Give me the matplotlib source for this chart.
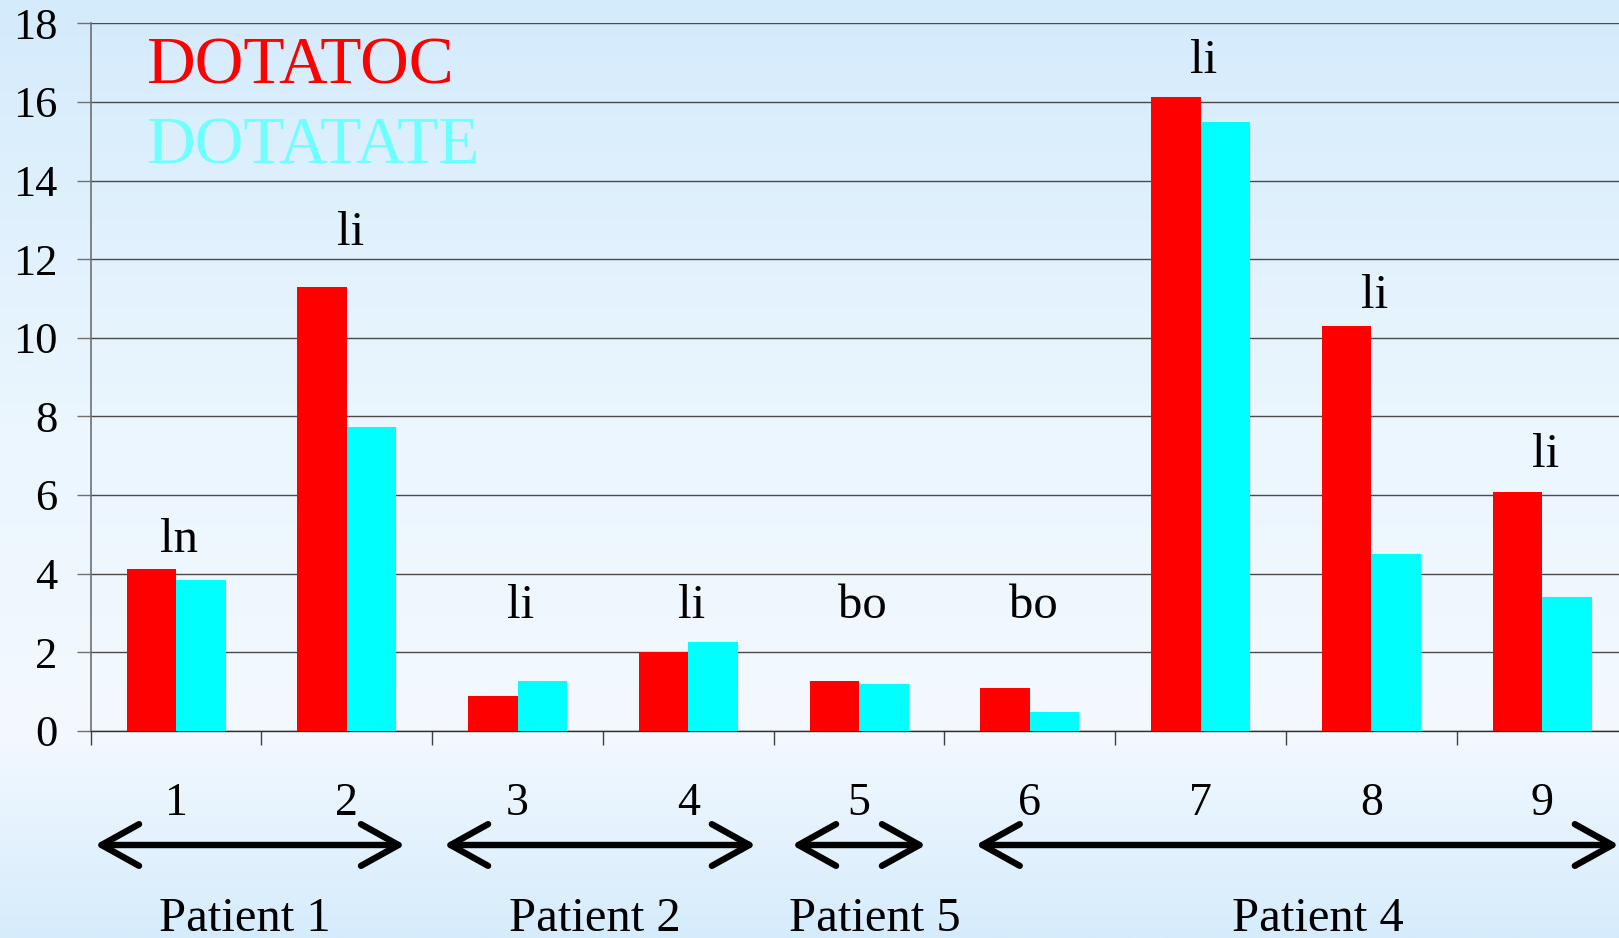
import numpy as np
import matplotlib
matplotlib.use("Agg")
import matplotlib.pyplot as plt
from matplotlib import transforms

# lesion uptake per lesion number, two tracers
lesions = ["1", "2", "3", "4", "5", "6", "7", "8", "9"]
dotatoc = [4.12, 11.30, 0.89, 2.00, 1.26, 1.08, 16.13, 10.30, 6.08]
dotatate = [3.84, 7.72, 1.26, 2.26, 1.18, 0.47, 15.50, 4.49, 3.41]
sites = ["ln", "li", "li", "li", "bo", "bo", "li", "li", "li"]
patients = ["Patient 1", "Patient 2", "Patient 5", "Patient 4"]

# where the site tags and patient brackets sit
site_baseline = [4.55, 12.37, 2.88, 2.88, 2.88, 2.88, 16.74, 10.76, 6.72]
bracket_ends = [(-0.475, 1.341), (1.569, 3.396), (3.607, 4.392), (4.683, 8.45)]
patient_x = [0.402, 2.452, 4.09, 6.685]

plt.rcParams["font.family"] = ["Liberation Serif", "DejaVu Serif"]

W, H = 1619, 938
fig = plt.figure(figsize=(W / 100, H / 100), dpi=100)

# soft vertical blue gradient behind everything
bg = fig.add_axes([0, 0, 1, 1], zorder=-10)
rows = np.linspace(0, 1, 400)
stops = [0.0, 0.45, 0.78, 1.0]
r = np.interp(rows, stops, [212, 235, 243, 214])
g = np.interp(rows, stops, [235, 246, 249, 236])
b = np.interp(rows, stops, [252, 254, 255, 252])
grad = np.stack([r, g, b], axis=1)[:, None, :] / 255.0
bg.imshow(grad, aspect="auto", extent=[0, 1, 0, 1], origin="upper")
bg.axis("off")

left = 90.7 / W
bottom = (H - 730.7) / H
height = (730.7 - 23.3) / H
width = 9 * 170.75 / W
ax = fig.add_axes([left, bottom, width, height])
ax.set_facecolor("none")

x = np.arange(len(lesions))
bw = 0.29
ax.bar(x - bw / 2, dotatoc, width=bw, color="#ff0000", zorder=3)
ax.bar(x + bw / 2, dotatate, width=bw, color="#00ffff", zorder=3)

ax.set_xlim(-0.5, 8.5)
ax.set_ylim(0, 18)
ax.set_yticks(np.arange(0, 19, 2))
ax.yaxis.grid(True, color="#4a4a4a", lw=1.0)
ax.set_axisbelow(True)

for s in ["top", "right"]:
    ax.spines[s].set_visible(False)
ax.spines["left"].set_color("#707070")
ax.spines["left"].set_linewidth(1.2)
ax.spines["bottom"].set_color("#303030")
ax.spines["bottom"].set_linewidth(1.0)

ax.tick_params(axis="y", direction="out", length=10, width=1.0, color="#707070",
               labelsize=32, pad=14)
ax.set_xticks(np.arange(-0.5, 9, 1))
ax.set_xticklabels([])
ax.set_xticks(x, minor=True)
ax.set_xticklabels(lesions, minor=True)
ax.tick_params(axis="x", which="major", direction="out", length=10, width=1.0,
               color="#404040")
ax.tick_params(axis="x", which="minor", length=0, labelsize=33, pad=37)

for xi, tag, yb in zip(x, sites, site_baseline):
    ax.text(xi + 0.02, yb, tag, ha="center", va="baseline", fontsize=35, zorder=4)

# tracer key in the upper left
fig.text(146 / W, (H - 84) / H, "DOTATOC", color="#ff0000", fontsize=48.5,
         va="baseline", ha="left")
fig.text(146 / W, (H - 164) / H, "DOTATATE", color="#6effff", fontsize=48.5,
         va="baseline", ha="left")

# patient brackets under the lesion numbers
trans = transforms.blended_transform_factory(ax.transData, fig.transFigure)
arrow_y = (H - 845) / H
for (x0, x1), px, name in zip(bracket_ends, patient_x, patients):
    ax.annotate("", xy=(x1, arrow_y), xytext=(x0, arrow_y),
                xycoords=trans, textcoords=trans, annotation_clip=False,
                arrowprops=dict(arrowstyle="<->,head_length=27,head_width=15",
                                lw=4.6, color="black", shrinkA=0, shrinkB=0,
                                capstyle="round", joinstyle="round",
                                mutation_scale=1))
    ax.text(px, (H - 931) / H, name, transform=trans, ha="center",
            va="baseline", fontsize=35, clip_on=False)

fig.savefig("out.png", dpi=100)
